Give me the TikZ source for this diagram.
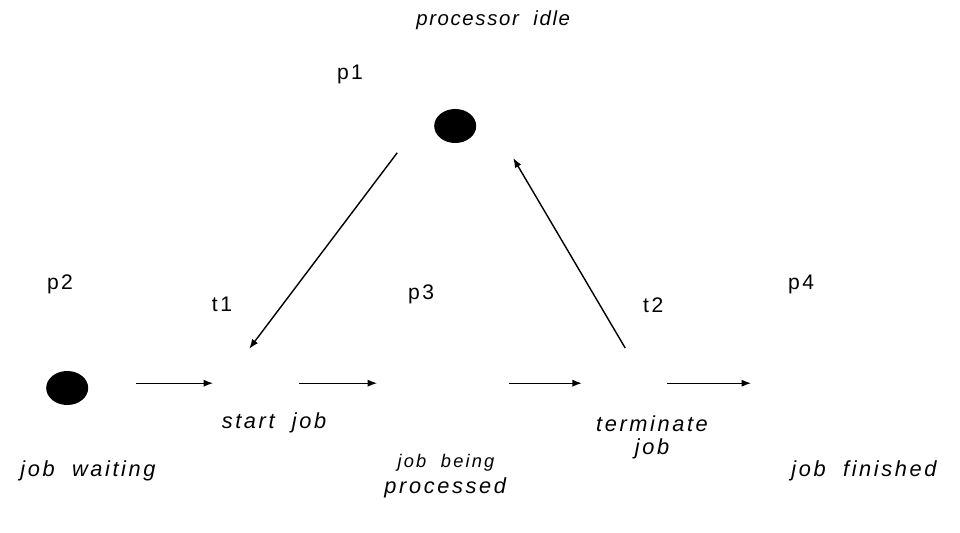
\documentclass[tikz,border=0pt]{standalone}
\usepackage{fontspec}
\usepackage{tikz}
\usetikzlibrary{arrows.meta,positioning,shapes.geometric}
\newfontfamily\netfont[LetterSpace=12,WordSpace=2]{Liberation Sans}
\newfontfamily\idlefont[LetterSpace=8,WordSpace=2]{Liberation Sans}

\begin{document}
\begin{tikzpicture}[
  token/.style={
    ellipse,
    fill=black,
    minimum width=1.05cm,
    minimum height=0.85cm,
    inner sep=0pt
  },
  arc/.style={-{Latex[length=2.4mm,width=1.8mm]}, line width=1pt},
  idlabel/.style={font=\netfont\fontsize{15}{17}\selectfont},
  desc/.style={font=\netfont\fontsize{15.5}{17}\selectfont\itshape, align=center},
  smalldesc/.style={font=\netfont\fontsize{13}{15}\selectfont\itshape}
]
\useasboundingbox (0,0) rectangle (24,13.3);

\node[desc, font=\idlefont\fontsize{14.5}{16}\selectfont\itshape] (idle) at (12.33,12.8) {processor idle};
\node[idlabel] (p1) at (8.75,11.43) {p1};
\node[token] (tokp1) at (11.38,10.15) {};

\node[idlabel] (p2) at (1.5,6.2) {p2};
\node[idlabel] (t1) at (5.55,5.68) {t1};
\node[idlabel] (p3) at (10.53,5.93) {p3};
\node[idlabel] (t2) at (16.33,5.68) {t2};
\node[idlabel] (p4) at (20.03,6.2) {p4};

\node[token] (tokp2) at (1.68,3.6) {};

\coordinate (p2out) at (3.4,3.72);
\coordinate (t1in) at (5.33,3.72);
\coordinate (t1out) at (7.48,3.72);
\coordinate (p3in) at (9.43,3.72);
\coordinate (p3out) at (12.73,3.72);
\coordinate (t2in) at (14.55,3.72);
\coordinate (t2out) at (16.68,3.72);
\coordinate (p4in) at (18.78,3.72);
\coordinate (p1out) at (9.93,9.48);
\coordinate (t1top) at (6.23,4.58);
\coordinate (t2top) at (15.63,4.6);
\coordinate (p1in) at (12.83,9.35);

\draw[arc] (p2out) -- (t1in);
\draw[arc] (t1out) -- (p3in);
\draw[arc] (p3out) -- (t2in);
\draw[arc] (t2out) -- (p4in);
\draw[arc] (p1out) -- (t1top);
\draw[arc] (t2top) -- (p1in);

\node[desc] (start) at (6.85,2.73) {start job};
\node[desc] (waiting) at (2.2,1.53) {job waiting};
\node[smalldesc] (being) at (11.15,1.73) {job being};
\node[desc] (processed) at (11.13,1.1) {processed};
\node[desc] (terminate) at (16.3,2.36) {terminate\\[-1pt]job};
\node[desc] (finished) at (21.6,1.53) {job finished};
\end{tikzpicture}
\end{document}
